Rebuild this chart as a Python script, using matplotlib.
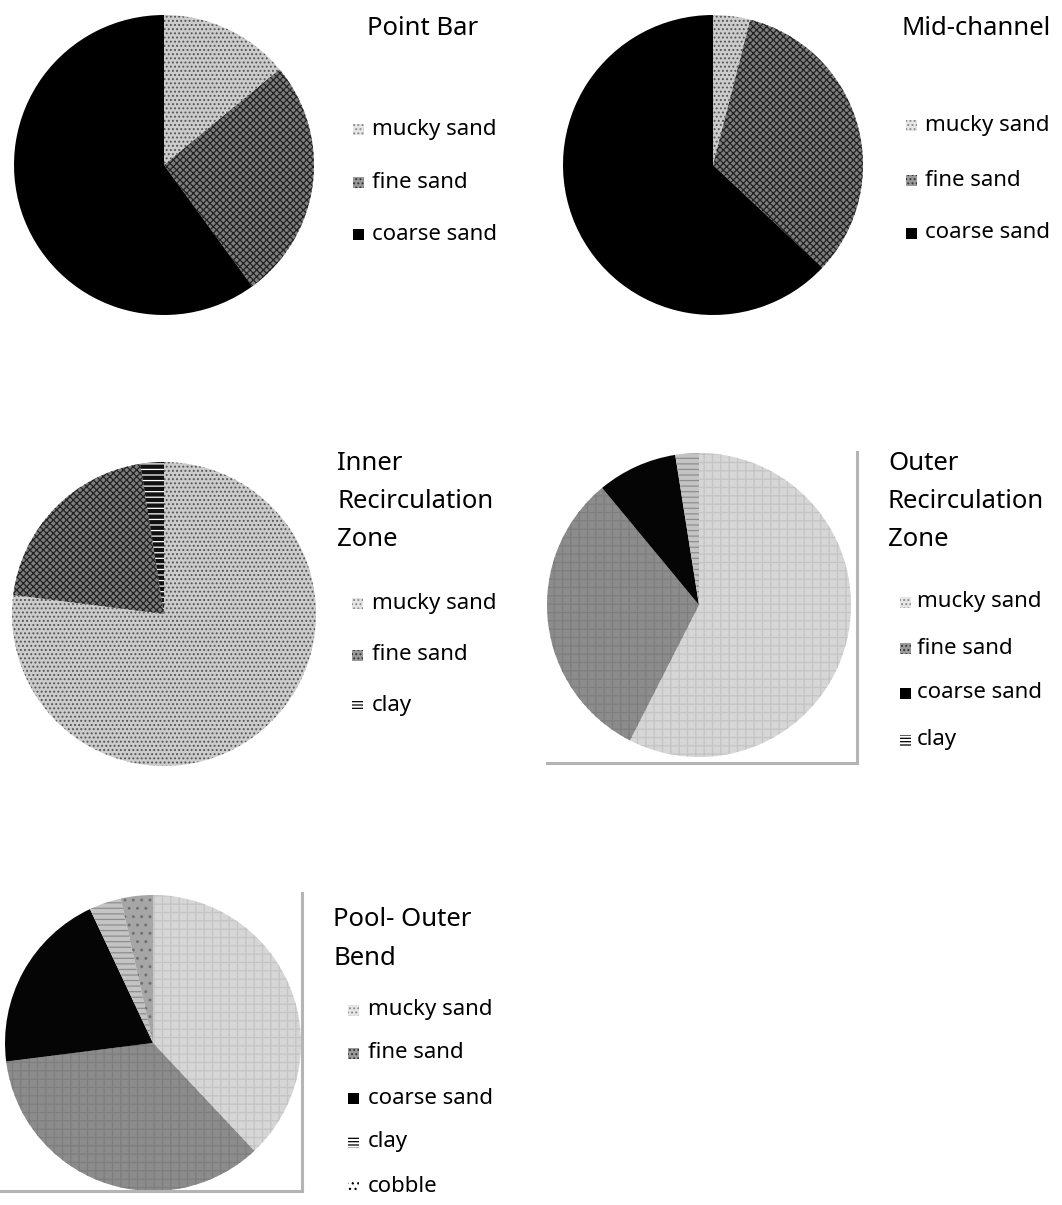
import matplotlib
matplotlib.use("Agg")
import matplotlib.pyplot as plt
from matplotlib.patches import Rectangle
from matplotlib.lines import Line2D

plt.rcParams["font.family"] = ["Noto Sans", "DejaVu Sans"]
plt.rcParams["hatch.linewidth"] = 0.9

W, H = 1062, 1205

# ---- data ---------------------------------------------------------------
point_bar_labels = ["mucky sand", "fine sand", "coarse sand"]
point_bar_values = [14, 26, 60]

mid_channel_labels = ["mucky sand", "fine sand", "coarse sand"]
mid_channel_values = [4, 33, 63]

inner_labels = ["mucky sand", "fine sand", "clay"]
inner_values = [77, 20.5, 2.5]

outer_labels = ["mucky sand", "fine sand", "coarse sand", "clay"]
outer_values = [57.5, 31.5, 8.5, 2.5]

pool_labels = ["mucky sand", "fine sand", "coarse sand", "clay", "cobble"]
pool_values = [38, 35, 20, 3.5, 3.5]

# ---- fill styles (face, hatch, hatch colour) -------------------------------
PRINT_STYLE = {
    "mucky sand":  ("#cccccc", "....", "#555555"),
    "fine sand":   ("#7e7e7e", "xxxxx", "#222222"),
    "coarse sand": ("#000000", None, "#000000"),
    "clay":        ("#111111", "---", "#ffffff"),
}
SCAN_STYLE = {
    "mucky sand":  ("#d6d6d6", "++", "#c4c4c4"),
    "fine sand":   ("#8c8c8c", "++", "#7e7e7e"),
    "coarse sand": ("#050505", None, "#050505"),
    "clay":        ("#c4c4c4", "---", "#8e8e8e"),
    "cobble":      ("#a6a6a6", "..", "#707070"),
}
# legend swatches are small, so they get their own fills
SWATCH = {
    "mucky sand":  ("#e6e6e6", "....", "#8a8a8a"),
    "fine sand":   ("#9a9a9a", "....", "#333333"),
    "coarse sand": ("#000000", None, "#000000"),
    "clay":        ("#ffffff", "-----", "#000000"),
    "cobble":      ("#ffffff", "...", "#000000"),
}


def fig_xy(x, y):
    return x / W, 1 - y / H


def draw_pie(cx, cy, r, labels, values, style):
    ax = fig.add_axes([(cx - r) / W, 1 - (cy + r) / H, 2 * r / W, 2 * r / H])
    wedges, _ = ax.pie(values, startangle=90, counterclock=False,
                       wedgeprops=dict(linewidth=0))
    for w, lab in zip(wedges, labels):
        face, hatch, hcol = style[lab]
        w.set_facecolor(face)
        w.set_edgecolor(hcol)
        w.set_linewidth(0)
        if hatch:
            w.set_hatch(hatch)
    ax.set_xlim(-1, 1)
    ax.set_ylim(-1, 1)
    ax.set_aspect("auto")
    ax.axis("off")


def draw_title(x, baselines, lines):
    for yb, txt in zip(baselines, lines):
        fig.text(*fig_xy(x, yb), txt, fontsize=18.5, va="baseline", ha="left")


def draw_legend(mx, tx, rows, labels):
    s = 11
    for y, lab in zip(rows, labels):
        face, hatch, hcol = SWATCH[lab]
        x0, y0 = fig_xy(mx, y + s / 2)
        fig.add_artist(Rectangle((x0, y0), s / W, s / H, transform=fig.transFigure,
                                 facecolor=face, edgecolor=hcol, hatch=hatch,
                                 linewidth=0))
        fig.text(*fig_xy(tx, y), lab, fontsize=16, va="center", ha="left")


def frame_lines(x0, x1, y0, y1):
    for xs, ys in [((x0, x1), (y1, y1)), ((x1, x1), (y0, y1))]:
        fig.add_artist(Line2D([x / W for x in xs], [1 - y / H for y in ys],
                              transform=fig.transFigure, color="#b4b4b4", lw=2.2))


fig = plt.figure(figsize=(W / 100, H / 100), dpi=100)

# ---- Point Bar ---------------------------------------------------------------
draw_pie(164, 165, 150, point_bar_labels, point_bar_values, PRINT_STYLE)
draw_title(367, [35], ["Point Bar"])
draw_legend(353, 372, [129, 182, 234], point_bar_labels)

# ---- Mid-channel -------------------------------------------------------------
draw_pie(713, 165, 150, mid_channel_labels, mid_channel_values, PRINT_STYLE)
draw_title(902, [35], ["Mid-channel"])
draw_legend(906, 925, [125, 180, 233], mid_channel_labels)

# ---- Inner Recirculation Zone -----------------------------------------------
draw_pie(164, 614, 152, inner_labels, inner_values, PRINT_STYLE)
draw_title(337, [470, 508, 546], ["Inner", "Recirculation", "Zone"])
draw_legend(352, 372, [603, 655, 705], inner_labels)

# ---- Outer Recirculation Zone -----------------------------------------------
frame_lines(547, 857, 452, 763)
draw_pie(699, 605, 152, outer_labels, outer_values, SCAN_STYLE)
draw_title(888, [470, 508, 546], ["Outer", "Recirculation", "Zone"])
draw_legend(900, 917, [602, 648, 693, 740], outer_labels)

# ---- Pool- Outer Bend --------------------------------------------------------
frame_lines(0, 302, 893, 1191)
draw_pie(153, 1043, 148, pool_labels, pool_values, SCAN_STYLE)
draw_title(333, [926, 965], ["Pool- Outer", "Bend"])
draw_legend(348, 368, [1010, 1053, 1098, 1142, 1186], pool_labels)

fig.savefig("out.png", dpi=100)
